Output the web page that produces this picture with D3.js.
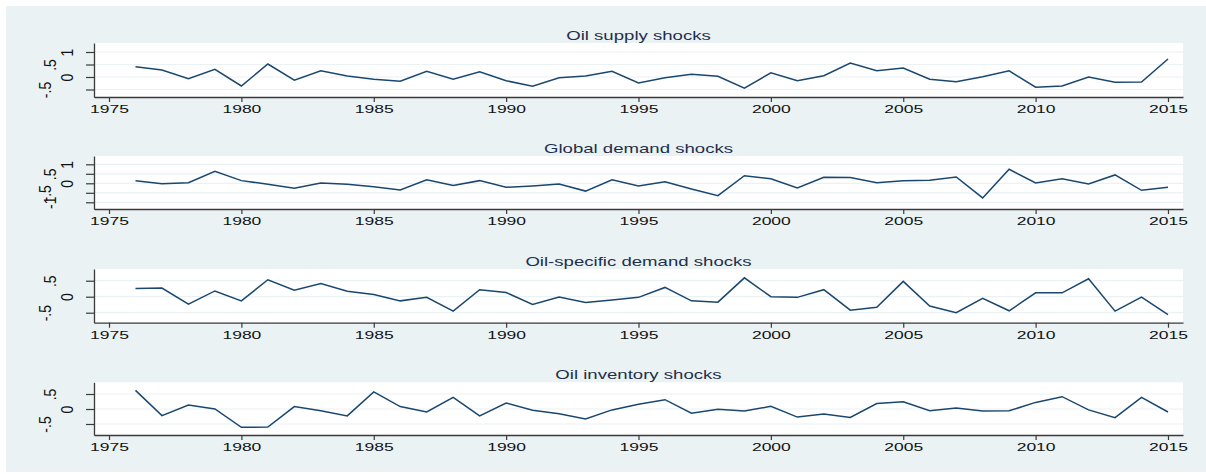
<!DOCTYPE html>
<html><head><meta charset="utf-8">
<script src="https://cdn.jsdelivr.net/npm/d3@7"></script>
<style>body{margin:0;background:#fff}svg{display:block}</style>
</head><body>
<svg id="c" width="1206" height="474"></svg>
<script>
// ---- data ----
const years = [1976,1977,1978,1979,1980,1981,1982,1983,1984,1985,1986,1987,1988,1989,1990,
  1991,1992,1993,1994,1995,1996,1997,1998,1999,2000,2001,2002,2003,2004,2005,
  2006,2007,2008,2009,2010,2011,2012,2013,2014,2015];
const supply = [0.41,0.28,-0.07,0.31,-0.36,0.52,-0.13,0.25,0.04,-0.09,
  -0.17,0.23,-0.09,0.21,-0.15,-0.37,-0.03,0.04,0.23,-0.24,
  -0.03,0.11,0.03,-0.45,0.17,-0.15,0.05,0.56,0.25,0.36,
  -0.09,-0.19,0.01,0.25,-0.41,-0.36,0.0,-0.21,-0.20,0.72];
const globalDemand = [0.14,-0.02,0.03,0.63,0.14,-0.05,-0.26,0.02,-0.05,-0.18,
  -0.35,0.19,-0.11,0.14,-0.21,-0.14,-0.04,-0.41,0.19,-0.14,
  0.08,-0.30,-0.65,0.40,0.24,-0.25,0.32,0.30,0.03,0.14,
  0.16,0.33,-0.77,0.74,0.02,0.24,-0.04,0.44,-0.37,-0.21];
const oilSpecific = [0.26,0.27,-0.23,0.18,-0.13,0.53,0.20,0.41,0.17,0.07,
  -0.13,-0.02,-0.45,0.22,0.13,-0.24,-0.01,-0.18,-0.10,-0.02,
  0.29,-0.13,-0.17,0.59,0.0,-0.02,0.22,-0.42,-0.33,0.48,
  -0.29,-0.50,-0.05,-0.44,0.12,0.12,0.56,-0.45,-0.01,-0.56];
const inventory = [0.62,-0.22,0.13,0.0,-0.61,-0.60,0.08,-0.06,-0.23,0.57,
  0.08,-0.10,0.39,-0.23,0.20,-0.04,-0.16,-0.33,-0.03,0.16,
  0.31,-0.14,-0.01,-0.07,0.09,-0.27,-0.17,-0.28,0.18,0.24,
  -0.06,0.03,-0.07,-0.06,0.22,0.41,-0.03,-0.29,0.39,-0.10];
const titles = ["Oil supply shocks","Global demand shocks","Oil-specific demand shocks","Oil inventory shocks"];
const xTicks = [1975,1980,1985,1990,1995,2000,2005,2010,2015];
const yTicks = [[-0.5,0,0.5,1],[-1,-0.5,0,0.5,1],[-0.5,0,0.5],[-0.5,0,0.5]];
const series = [supply, globalDemand, oilSpecific, inventory];

// ---- layout ----
const W = 1206, H = 474;
const panels = [
  {top:43, bottom:97, dom:[-0.8,1.36]},
  {top:156, bottom:209, dom:[-1.353,1.437]},
  {top:269, bottom:322.7, dom:[-0.8125,0.866]},
  {top:382.3, bottom:435, dom:[-0.867,0.89]}
];
const left = 94, right = 1183;
const SX = 1.55; // horizontal stretch of glyphs
const FONT = "'Liberation Sans', Arial, Helvetica, sans-serif";
const lineColor = "#1a476f";
const axisColor = "#3a3a3a";
// horizontal centre of the vertical y labels, by label length
const yLabelCenter = len => len <= 1 ? 67 : (len === 2 ? 50 : 45);

const svg = d3.select("#c");
svg.append("rect").attr("x",6).attr("y",6).attr("width",W-6).attr("height",H-8).attr("fill","#eaf2f3");

const x = d3.scaleLinear().domain([1974.433, 2015.567]).range([left, right]);
const fmt = v => v === 0 ? "0" : String(v).replace("0.", ".");

panels.forEach((p, i) => {
  const y = d3.scaleLinear().domain(p.dom).range([p.bottom, p.top]);
  const g = svg.append("g");
  g.append("rect").attr("x", left).attr("y", p.top).attr("width", right-left).attr("height", p.bottom-p.top).attr("fill","#fff");
  // grid
  g.selectAll("line.grid").data(yTicks[i]).join("line")
    .attr("x1", left).attr("x2", right)
    .attr("y1", d => y(d)).attr("y2", d => y(d))
    .attr("stroke", "#eaf2f3").attr("stroke-width", 1.2);
  // line
  const line = d3.line().x((d, k) => x(years[k])).y(d => y(d));
  g.append("path").datum(series[i]).attr("d", line)
    .attr("fill","none").attr("stroke", lineColor).attr("stroke-width", 1.5).attr("stroke-linejoin","miter");
  // x axis
  const xa = g.append("g").attr("transform", `translate(0,${p.bottom})`)
    .call(d3.axisBottom(x).tickValues(xTicks).tickSize(5).tickSizeOuter(0).tickFormat(d3.format("d")));
  xa.select(".domain").attr("stroke", axisColor).attr("stroke-width", 1.3);
  xa.selectAll(".tick line").attr("stroke", axisColor).attr("stroke-width", 1.2);
  xa.selectAll(".tick text").attr("y", null).attr("dy", null)
    .attr("transform", `translate(0,16.3) scale(${SX},1)`)
    .attr("font-family", FONT).attr("font-size", 11.3).attr("fill", "#111").attr("text-anchor","middle");
  // y axis
  const ya = g.append("g").attr("transform", `translate(${left},0)`)
    .call(d3.axisLeft(y).tickValues(yTicks[i]).tickSize(8).tickSizeOuter(0).tickFormat(fmt));
  ya.select(".domain").attr("stroke", axisColor).attr("stroke-width", 1.3);
  ya.selectAll(".tick line").attr("stroke", axisColor).attr("stroke-width", 1.2);
  ya.selectAll(".tick text").attr("x", null).attr("dy", "0.36em")
    .attr("transform", d => `translate(${yLabelCenter(fmt(d).length) - left},0) scale(1.15,1) rotate(-90)`)
    .attr("font-family", FONT).attr("font-size", 14).attr("fill", "#111").attr("text-anchor","middle");
  // title
  g.append("text").attr("text-anchor","middle")
    .attr("transform", `translate(${(left+right)/2},${p.top-3}) scale(${SX},1)`)
    .attr("font-family", FONT).attr("font-size", 12).attr("fill", "#1e2f4d")
    .text(titles[i]);
});
</script>
</body></html>
